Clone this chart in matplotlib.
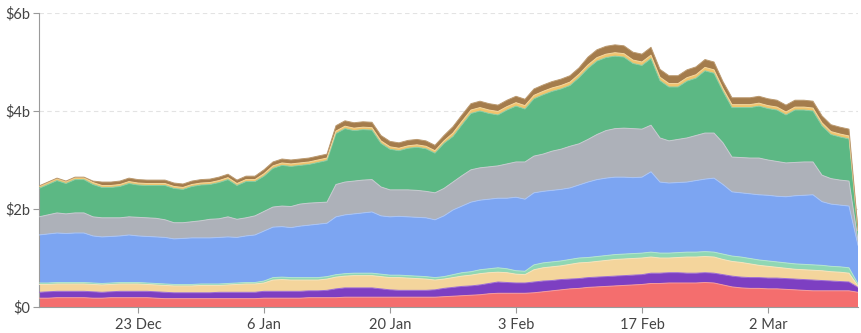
import matplotlib
matplotlib.use("Agg")
import matplotlib.pyplot as plt
import numpy as np
import pandas as pd

# ---- data (values in $ billions, daily, 12 Dec 2023 .. 12 Mar 2024) ----
dates = pd.date_range("2023-12-12", "2024-03-12", freq="D")

red = [0.18, 0.18, 0.19, 0.19, 0.19, 0.19, 0.18, 0.18, 0.19, 0.19, 0.19,
       0.19, 0.19, 0.18, 0.17, 0.17, 0.17, 0.17, 0.17, 0.17, 0.17,
       0.17, 0.17, 0.17, 0.17, 0.18, 0.18, 0.18, 0.18, 0.18, 0.19,
       0.19, 0.19, 0.19, 0.20, 0.20, 0.20, 0.20, 0.20, 0.20, 0.20,
       0.20, 0.20, 0.20, 0.20, 0.21, 0.22, 0.23, 0.24, 0.25, 0.27,
       0.28, 0.28, 0.28, 0.28, 0.29, 0.31, 0.33, 0.35, 0.37, 0.38,
       0.40, 0.41, 0.42, 0.43, 0.44, 0.45, 0.46, 0.48, 0.48, 0.49,
       0.49, 0.49, 0.49, 0.50, 0.49, 0.45, 0.41, 0.39, 0.38, 0.38,
       0.37, 0.37, 0.36, 0.35, 0.34, 0.33, 0.33, 0.33, 0.33, 0.33, 0.30]

purple = [0.12, 0.13, 0.13, 0.13, 0.13, 0.13, 0.13, 0.12, 0.12, 0.13, 0.13,
          0.13, 0.13, 0.13, 0.13, 0.12, 0.12, 0.12, 0.12, 0.12, 0.13,
          0.13, 0.13, 0.13, 0.13, 0.14, 0.14, 0.14, 0.14, 0.14, 0.14,
          0.14, 0.15, 0.18, 0.19, 0.19, 0.19, 0.19, 0.17, 0.15, 0.14,
          0.14, 0.14, 0.14, 0.15, 0.17, 0.18, 0.19, 0.19, 0.20, 0.21,
          0.23, 0.22, 0.21, 0.21, 0.22, 0.22, 0.21, 0.21, 0.20, 0.20,
          0.20, 0.20, 0.20, 0.20, 0.20, 0.20, 0.20, 0.21, 0.21, 0.21,
          0.21, 0.20, 0.20, 0.20, 0.20, 0.21, 0.22, 0.22, 0.22, 0.22,
          0.22, 0.22, 0.22, 0.22, 0.22, 0.22, 0.21, 0.20, 0.19, 0.18, 0.10]

wheat = [0.16, 0.15, 0.15, 0.15, 0.15, 0.15, 0.15, 0.15, 0.15, 0.15, 0.15,
         0.15, 0.14, 0.14, 0.14, 0.14, 0.14, 0.14, 0.15, 0.15, 0.14,
         0.15, 0.16, 0.17, 0.17, 0.17, 0.23, 0.24, 0.23, 0.23, 0.22,
         0.22, 0.23, 0.24, 0.24, 0.25, 0.25, 0.25, 0.25, 0.25, 0.26,
         0.25, 0.24, 0.23, 0.20, 0.19, 0.20, 0.21, 0.22, 0.23, 0.22,
         0.20, 0.20, 0.18, 0.17, 0.25, 0.27, 0.28, 0.28, 0.30, 0.32,
         0.31, 0.32, 0.33, 0.34, 0.34, 0.34, 0.34, 0.33, 0.31, 0.30,
         0.31, 0.33, 0.33, 0.33, 0.33, 0.31, 0.30, 0.30, 0.28, 0.25,
         0.24, 0.22, 0.21, 0.20, 0.20, 0.20, 0.20, 0.19, 0.19, 0.18, 0.03]

teal = [0.03] * 25 + [0.04] + [0.05] * 20 + \
       [0.06, 0.07, 0.07, 0.08, 0.08, 0.09, 0.08, 0.07, 0.07] + \
       [0.10] * 21 + [0.11] * 15 + [0.04]

blue = [0.98, 1.00, 1.01, 1.00, 1.01, 1.01, 0.96, 0.95, 0.95, 0.95, 0.97,
        0.95, 0.95, 0.95, 0.95, 0.93, 0.94, 0.95, 0.94, 0.94, 0.95,
        0.95, 0.93, 0.95, 0.97, 1.02, 1.03, 1.03, 1.02, 1.05, 1.07,
        1.09, 1.09, 1.18, 1.20, 1.21, 1.23, 1.25, 1.19, 1.19, 1.20,
        1.20, 1.20, 1.20, 1.18, 1.24, 1.32, 1.36, 1.42, 1.42, 1.42,
        1.42, 1.44, 1.50, 1.47, 1.47, 1.46, 1.46, 1.46, 1.46, 1.49,
        1.54, 1.57, 1.58, 1.58, 1.57, 1.55, 1.55, 1.64, 1.45, 1.43,
        1.43, 1.43, 1.46, 1.48, 1.51, 1.42, 1.31, 1.31, 1.32, 1.33,
        1.34, 1.34, 1.35, 1.39, 1.41, 1.43, 1.30, 1.27, 1.26, 1.26, 0.79]

gray = [0.37, 0.39, 0.41, 0.40, 0.41, 0.41, 0.39, 0.39, 0.38, 0.37, 0.37,
        0.38, 0.38, 0.38, 0.36, 0.33, 0.32, 0.33, 0.35, 0.38, 0.38,
        0.41, 0.37, 0.37, 0.39, 0.40, 0.41, 0.42, 0.43, 0.45, 0.45,
        0.44, 0.43, 0.66, 0.67, 0.67, 0.67, 0.66, 0.59, 0.55, 0.54,
        0.55, 0.55, 0.54, 0.55, 0.56, 0.57, 0.62, 0.66, 0.66, 0.66,
        0.66, 0.70, 0.72, 0.76, 0.75, 0.76, 0.80, 0.82, 0.85, 0.84,
        0.87, 0.92, 0.97, 0.99, 1.00, 1.00, 0.98, 0.95, 0.90, 0.86,
        0.88, 0.90, 0.92, 0.94, 0.92, 0.85, 0.71, 0.72, 0.73, 0.75,
        0.72, 0.71, 0.69, 0.68, 0.68, 0.67, 0.54, 0.52, 0.51, 0.51, 0.10]

green = [0.58, 0.62, 0.66, 0.62, 0.68, 0.68, 0.66, 0.62, 0.62, 0.64, 0.68,
         0.66, 0.66, 0.67, 0.70, 0.70, 0.68, 0.72, 0.73, 0.71, 0.74,
         0.76, 0.69, 0.74, 0.70, 0.72, 0.79, 0.83, 0.82, 0.79, 0.79,
         0.82, 0.85, 1.04, 1.09, 1.03, 1.03, 1.01, 0.89, 0.83, 0.80,
         0.85, 0.88, 0.87, 0.81, 0.92, 0.93, 1.04, 1.15, 1.16, 1.09,
         1.04, 1.10, 1.14, 1.08, 1.17, 1.21, 1.22, 1.23, 1.24, 1.35,
         1.45, 1.50, 1.49, 1.48, 1.45, 1.33, 1.30, 1.36, 1.17, 1.10,
         1.07, 1.16, 1.17, 1.27, 1.22, 1.05, 1.01, 1.02, 1.03, 1.06,
         1.05, 1.05, 0.98, 1.07, 1.06, 1.04, 1.01, 0.90, 0.88, 0.86, 0.19]

yellow = [0.04] * 25 + [0.05] * 21 + [0.07] * 30 + [0.06] * 15 + [0.01]

brown = [0.01] * 6 + [0.03] + [0.07] * 18 + [0.08] * 8 + [0.11] * 13 + \
        [0.13] * 15 + [0.16] * 15 + [0.14] * 15 + [0.01]

series = [red, purple, wheat, teal, blue, gray, green, yellow, brown]
colors = ["#f46e6e", "#7d3fc2", "#f4d59c", "#8fd7b4", "#7ca5f2",
          "#adb1b9", "#5cb884", "#f1c46e", "#a47c4c"]
edge_colors = ["#f79a9a", "#9b6ad3", "#f8e3bb", "#b3e6cd", "#a8c4f7",
               "#c7cad0", "#86cba4", "#f5d699", "#bb9a70"]

tick_dates = ["2023-12-23", "2024-01-06", "2024-01-20", "2024-02-03",
              "2024-02-17", "2024-03-02"]
tick_labels = ["23 Dec", "6 Jan", "20 Jan", "3 Feb", "17 Feb", "2 Mar"]
y_ticks = [0, 2, 4, 6]
y_labels = ["\\$0", "\\$2b", "\\$4b", "\\$6b"]

# ---- plot ----
plt.rcParams["font.family"] = ["Lato", "DejaVu Sans"]
fig = plt.figure(figsize=(8.62, 3.33), dpi=100)
ax = fig.add_axes([39 / 862, 1 - 307 / 333, (858 - 39) / 862, (307 - 13) / 333])

x = np.arange(len(dates))
ys = np.vstack(series)
cum = np.cumsum(ys, axis=0)
base = np.zeros(len(dates))
for vals, top, c, ec in zip(ys, cum, colors, edge_colors):
    ax.fill_between(x, base, top, facecolor=c, edgecolor="none", zorder=2)
    ax.plot(x, top, color=ec, lw=0.7, zorder=3)
    base = top

ax.set_xlim(0, len(dates) - 1)
ax.set_ylim(0, 6)
ax.set_yticks(y_ticks)
ax.set_yticklabels(y_labels)
pos = [(pd.Timestamp(d) - dates[0]).days for d in tick_dates]
ax.set_xticks(pos)
ax.set_xticklabels(tick_labels)

ax.yaxis.grid(True, linestyle=(0, (4, 3)), color="#e3e3e3", lw=0.8, zorder=0)
ax.set_axisbelow(True)
for s in ["top", "right"]:
    ax.spines[s].set_visible(False)
for s in ["left", "bottom"]:
    ax.spines[s].set_color("#9a9a9a")
    ax.spines[s].set_linewidth(0.8)
ax.tick_params(axis="both", colors="#9a9a9a", labelcolor="#444444",
               labelsize=10.5, length=4, width=0.8)
ax.tick_params(axis="y", pad=2)
ax.tick_params(axis="x", pad=4)

fig.savefig("out.png", dpi=100)
